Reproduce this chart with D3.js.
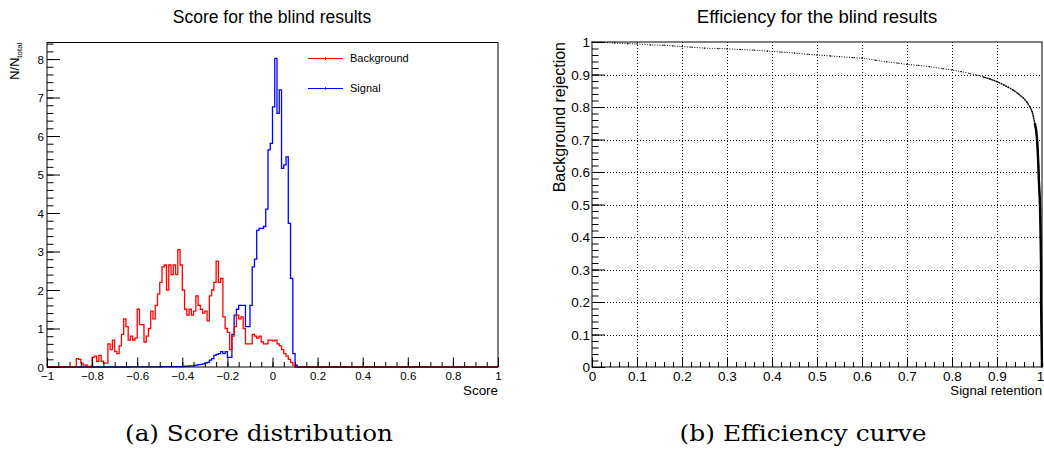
<!DOCTYPE html>
<html><head><meta charset="utf-8">
<script src="https://cdn.jsdelivr.net/npm/d3@7"></script>
<style>
body{margin:0;background:#fff}
svg text{font-family:"Liberation Sans",Arial,Helvetica,sans-serif;fill:#000}
</style>
</head><body>
<svg id="c" width="1044" height="460"></svg>
<script>
// ---------- DATA ----------
const histRange = [-1, 1];
const binWidth = 0.01;                 // 200 bins between -1 and 1
const backgroundStart = -0.88;         // lower edge of first listed bin
const backgroundValues = [
  0, 0.22, 0.2, 0.1, 0.05, 0.05, 0.0, 0.02, 0.25, 0.28, 0.15, 0.3, 0.15, 0.1, 0.1,
  0.6, 0.45, 0.7, 0.4, 0.35, 0.55, 0.85, 1.25, 1.05, 0.7, 0.8, 0.7, 0.75,
  1.5, 1.1, 1.1, 0.65, 0.8, 1.0, 1.45, 1.25, 1.6, 1.9, 2.2, 2.6, 2.65, 2.0, 2.65, 2.4, 2.65, 2.4, 3.05,
  2.65, 2.0, 1.5, 1.35, 1.5, 1.35, 1.45, 1.85, 1.6, 1.5, 1.4, 1.45, 1.2, 1.85, 2.0, 2.2, 2.75, 2.2, 2.3, 1.3, 1.0, 0.9,
  0.45, 0.8, 1.05, 1.35, 1.25, 1.3, 1.0, 0.6, 0.6, 0.6, 0.85, 0.8, 0.75, 0.8, 0.65, 0.6, 0.6, 0.7, 0.7,
  0.68, 0.7, 0.6, 0.55, 0.45, 0.35, 0.28, 0.2, 0.12, 0.05, 0
];
const signalStart = -0.63;
const signalValues = [
  0.005, 0.005, 0.005, 0.005, 0.005, 0.005, 0.005, 0.005, 0.005, 0.005, 0.005, 0.005, 0.005, 0.005,
  0.01, 0.01, 0.01, 0.01, 0.01, 0.01, 0.01, 0.01, 0.01, 0.01,
  0.02, 0.02, 0.03, 0.03, 0.04, 0.05, 0.06, 0.07, 0.08, 0.1, 0.12, 0.18, 0.22, 0.3, 0.33, 0.35, 0.4, 0.35, 0.4, 0.25,
  0.25, 0.85, 1.35, 1.5, 1.6, 1.6, 1.6, 1.05, 1.05, 1.6, 2.6, 2.8, 3.55, 3.6, 3.6, 3.65, 4.1,
  5.64, 5.81, 6.76, 8.02, 6.59, 7.2, 5.16, 5.25, 5.46, 3.73, 2.3, 0.35, 0.05, 0
];
const seriesNames = ["Background", "Signal"];
const scoreTicks = [-1, -0.8, -0.6, -0.4, -0.2, 0, 0.2, 0.4, 0.6, 0.8, 1];
const countTicks = [0, 1, 2, 3, 4, 5, 6, 7, 8];
const countMax = 8.43;

// ROC (signal retention, background rejection)
const rocPoints = [
  [0.0, 1.0], [0.02, 0.999], [0.05, 0.997], [0.08, 0.995], [0.10, 0.994], [0.13, 0.991], [0.16, 0.99],
  [0.18, 0.988], [0.20, 0.986], [0.22, 0.984], [0.25, 0.981], [0.28, 0.98], [0.30, 0.979], [0.33, 0.977],
  [0.36, 0.975], [0.39, 0.972], [0.42, 0.969], [0.45, 0.966], [0.48, 0.962], [0.50, 0.96], [0.53, 0.957],
  [0.55, 0.955], [0.58, 0.952], [0.60, 0.95], [0.63, 0.944], [0.655, 0.939], [0.68, 0.935], [0.70, 0.931],
  [0.725, 0.928], [0.75, 0.924], [0.78, 0.918], [0.80, 0.914], [0.82, 0.909], [0.84, 0.903], [0.855, 0.898],
  [0.87, 0.892], [0.885, 0.886], [0.90, 0.878], [0.915, 0.868], [0.925, 0.861], [0.936, 0.852], [0.948, 0.84],
  [0.959, 0.827], [0.967, 0.814], [0.973, 0.801], [0.978, 0.786], [0.981, 0.77], [0.984, 0.75], [0.987, 0.729],
  [0.989, 0.70], [0.99, 0.678], [0.992, 0.62], [0.993, 0.575], [0.995, 0.52], [0.996, 0.473], [0.997, 0.40],
  [0.998, 0.30], [0.998, 0.20], [0.999, 0.10], [1.0, 0.0]
];
const rocDenseFrom = 0.86;   // signal retention beyond which the reference dots merge into a dark band
const rocTicks = [0, 0.1, 0.2, 0.3, 0.4, 0.5, 0.6, 0.7, 0.8, 0.9, 1];

// ---------- DRAW ----------
const svg = d3.select("#c");
const fmt = d => String(+d.toFixed(2)).replace("-", "\u2212");

function fullBins(start, vals) {
  const n = Math.round((histRange[1] - histRange[0]) / binWidth);
  const arr = new Array(n).fill(0);
  const off = Math.round((start - histRange[0]) / binWidth);
  vals.forEach((v, i) => { arr[off + i] = v; });
  const pts = arr.map((v, i) => [histRange[0] + i * binWidth, v]);
  pts.push([histRange[1], 0]);
  return [[histRange[0], 0]].concat(pts);
}

// ----- Left panel -----
const L = {x0: 47, x1: 498, y0: 42.5, y1: 367};
const xs = d3.scaleLinear().domain(histRange).range([L.x0, L.x1]);
const ys = d3.scaleLinear().domain([0, countMax]).range([L.y1, L.y0]);
const gL = svg.append("g");

const stepLine = d3.line().x(d => xs(d[0])).y(d => ys(d[1])).curve(d3.curveStepAfter);
gL.append("path").datum(fullBins(signalStart, signalValues)).attr("d", stepLine)
  .attr("fill", "none").attr("stroke", "#0000ff").attr("stroke-width", 1.3);
gL.append("path").datum(fullBins(backgroundStart, backgroundValues)).attr("d", stepLine)
  .attr("fill", "none").attr("stroke", "#ff0000").attr("stroke-width", 1.3);

// minor ticks
const xMinorL = d3.range(-1, 1.0001, 0.05);
const yMinorL = d3.range(0, countMax, 0.2);
gL.append("g").attr("transform", `translate(0,${L.y1})`)
  .call(d3.axisBottom(xs).tickValues(xMinorL).tickSize(-5).tickSizeOuter(0).tickFormat(""))
  .call(g => g.select(".domain").remove());
gL.append("g").attr("transform", `translate(${L.x0},0)`)
  .call(d3.axisLeft(ys).tickValues(yMinorL).tickSize(-6.5).tickSizeOuter(0).tickFormat(""))
  .call(g => g.select(".domain").remove());
// major ticks
const axBL = gL.append("g").attr("transform", `translate(0,${L.y1})`)
  .call(d3.axisBottom(xs).tickValues(scoreTicks).tickSize(-9.5).tickSizeOuter(0).tickPadding(0).tickFormat(fmt));
axBL.select(".domain").remove();
axBL.selectAll("text").attr("y", 13).attr("dy", 0).attr("font-size", 11.5).style("font-family", "Liberation Sans");
const axLL = gL.append("g").attr("transform", `translate(${L.x0},0)`)
  .call(d3.axisLeft(ys).tickValues(countTicks).tickSize(-13).tickSizeOuter(0).tickFormat(fmt));
axLL.select(".domain").remove();
axLL.selectAll("text").attr("x", -3).attr("dy", "0.36em").attr("font-size", 11.5).style("font-family", "Liberation Sans");
gL.selectAll(".tick line").attr("stroke", "#000");
gL.append("rect").attr("x", L.x0).attr("y", L.y0).attr("width", L.x1 - L.x0).attr("height", L.y1 - L.y0)
  .attr("fill", "none").attr("stroke", "#000").attr("stroke-width", 1);

gL.append("text").attr("x", 272).attr("y", 22.5).attr("text-anchor", "middle").attr("font-size", 17.5)
  .text("Score for the blind results");
gL.append("text").attr("x", L.x1).attr("y", 395).attr("text-anchor", "end").attr("font-size", 13.4).text("Score");
const yt = gL.append("text").attr("transform", `translate(19,${L.y0}) rotate(-90)`).attr("text-anchor", "end")
  .attr("font-size", 12.8);
yt.append("tspan").text("N/N");
yt.append("tspan").attr("font-size", 8).attr("dy", 2.5).text("total");

// legend
const legend = [{name: seriesNames[0], color: "#ff0000", y: 58.5, ty: 62}, {name: seriesNames[1], color: "#0000ff", y: 88.5, ty: 92}];
legend.forEach(d => {
  gL.append("line").attr("x1", 308).attr("x2", 343).attr("y1", d.y).attr("y2", d.y).attr("stroke", d.color).attr("stroke-width", 1.2);
  gL.append("line").attr("x1", 325.5).attr("x2", 325.5).attr("y1", d.y - 1.5).attr("y2", d.y + 1.5).attr("stroke", "#333").attr("stroke-width", 0.8);
  gL.append("text").attr("x", 350).attr("y", d.ty).attr("font-size", 11).text(d.name);
});

// ----- Right panel -----
const R = {x0: 592, x1: 1042, y0: 42, y1: 367};
const xr = d3.scaleLinear().domain([0, 1]).range([R.x0, R.x1]);
const yr = d3.scaleLinear().domain([0, 1]).range([R.y1, R.y0]);
const gR = svg.append("g");

// grid
const gridVals = rocTicks.slice(1, -1);
gR.selectAll(".gx").data(gridVals).join("line").attr("x1", d => Math.round(xr(d)) + 0.5).attr("x2", d => Math.round(xr(d)) + 0.5)
  .attr("y1", R.y0).attr("y2", R.y1).attr("stroke", "#000").attr("stroke-dasharray", "1,2").attr("stroke-width", 1);
gR.selectAll(".gy").data(gridVals).join("line").attr("y1", d => Math.round(yr(d)) + 0.5).attr("y2", d => Math.round(yr(d)) + 0.5)
  .attr("x1", R.x0).attr("x2", R.x1).attr("stroke", "#000").attr("stroke-dasharray", "1,2").attr("stroke-width", 1);

const xMinorR = d3.range(0, 1.0001, 0.02);
gR.append("g").attr("transform", `translate(0,${R.y1})`)
  .call(d3.axisBottom(xr).tickValues(xMinorR).tickSize(-5).tickSizeOuter(0).tickFormat(""))
  .call(g => g.select(".domain").remove());
gR.append("g").attr("transform", `translate(${R.x0},0)`)
  .call(d3.axisLeft(yr).tickValues(xMinorR).tickSize(-6.5).tickSizeOuter(0).tickFormat(""))
  .call(g => g.select(".domain").remove());
const axBR = gR.append("g").attr("transform", `translate(0,${R.y1})`)
  .call(d3.axisBottom(xr).tickValues(rocTicks).tickSize(-9.5).tickSizeOuter(0).tickFormat(fmt));
axBR.select(".domain").remove();
axBR.selectAll("text").attr("y", 13.5).attr("dy", 0).attr("font-size", 13.5).style("font-family", "Liberation Sans")
  .attr("dx", d => d === 1 ? -2 : 0);
const axLR = gR.append("g").attr("transform", `translate(${R.x0},0)`)
  .call(d3.axisLeft(yr).tickValues(rocTicks).tickSize(-13).tickSizeOuter(0).tickFormat(fmt));
axLR.select(".domain").remove();
axLR.selectAll("text").attr("x", -2).attr("dy", "0.36em").attr("font-size", 13.5).style("font-family", "Liberation Sans");
gR.selectAll(".tick line").attr("stroke", "#000");

// curve
const rocLine = d3.line().x(d => xr(d[0])).y(d => yr(d[1]));
gR.append("path").datum(rocPoints).attr("d", rocLine).attr("fill", "none").attr("stroke", "#000")
  .attr("stroke-width", 1).attr("stroke-dasharray", "1,1.5");
const dense = rocPoints.filter(d => d[0] >= rocDenseFrom);
gR.append("path").datum(dense).attr("d", rocLine).attr("fill", "none").attr("stroke", "#111")
  .attr("stroke-width", 1.4).attr("stroke-dasharray", "2,0.6");
gR.append("path").datum(dense.filter(d => d[1] <= 0.75)).attr("d", rocLine).attr("fill", "none").attr("stroke", "#000")
  .attr("stroke-width", 2.4);
gR.selectAll(".pt").data(rocPoints).join("rect").attr("x", d => xr(d[0]) - 0.6).attr("y", d => yr(d[1]) - 0.6)
  .attr("width", 1.2).attr("height", 1.2).attr("fill", "#000");

gR.append("rect").attr("x", R.x0).attr("y", R.y0).attr("width", R.x1 - R.x0).attr("height", R.y1 - R.y0)
  .attr("fill", "none").attr("stroke", "#000").attr("stroke-width", 1);

gR.append("text").attr("x", 817).attr("y", 22.5).attr("text-anchor", "middle").attr("font-size", 18.5)
  .text("Efficiency for the blind results");
gR.append("text").attr("x", R.x1).attr("y", 395).attr("text-anchor", "end").attr("font-size", 13.2).text("Signal retention");
gR.append("text").attr("transform", `translate(565,${R.y0}) rotate(-90)`).attr("text-anchor", "end")
  .attr("font-size", 16).text("Background rejection");

// captions
svg.append("text").attr("x", 259).attr("y", 441).attr("text-anchor", "middle").attr("font-size", 23)
  .attr("textLength", 268).attr("lengthAdjust", "spacingAndGlyphs")
  .style("font-family", "'DejaVu Serif', serif").text("(a) Score distribution");
svg.append("text").attr("x", 803).attr("y", 441).attr("text-anchor", "middle").attr("font-size", 23)
  .attr("textLength", 247).attr("lengthAdjust", "spacingAndGlyphs")
  .style("font-family", "'DejaVu Serif', serif").text("(b) Efficiency curve");
</script>
</body></html>
